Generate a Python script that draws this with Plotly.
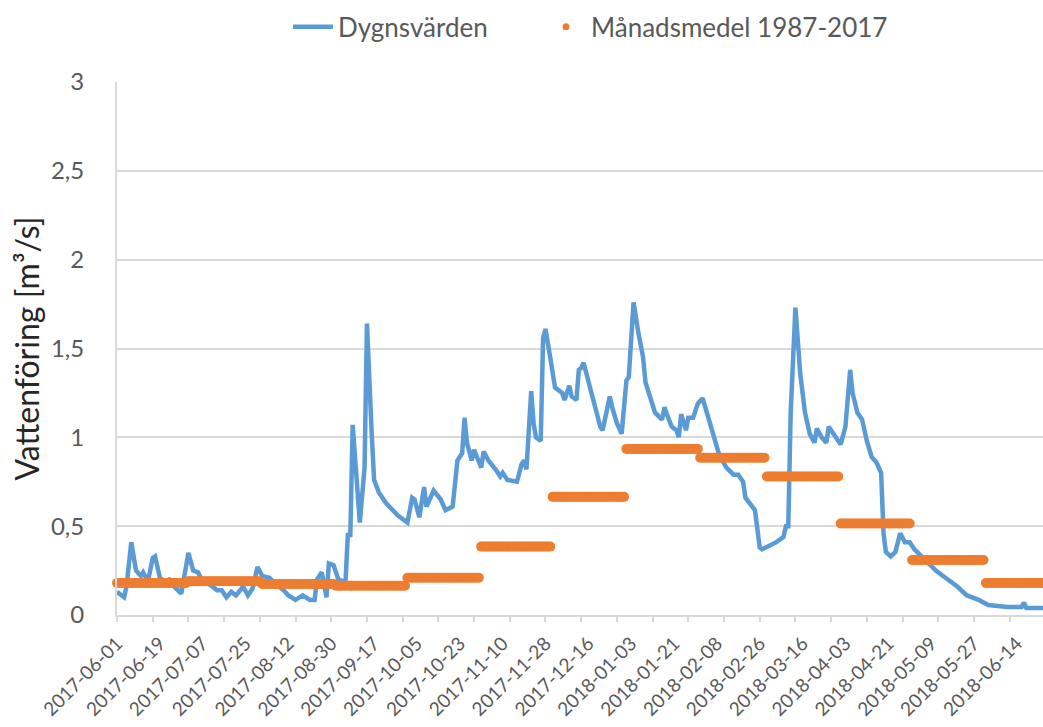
import plotly.graph_objects as go
import pandas as pd

# Daily discharge (Dygnsvärden) – key readings from the chart
daily_dates = [
    "2017-06-01", "2017-06-04", "2017-06-05", "2017-06-07", "2017-06-09", "2017-06-11", "2017-06-12",
    "2017-06-14", "2017-06-16", "2017-06-17", "2017-06-19", "2017-06-21", "2017-06-23", "2017-06-25",
    "2017-06-28", "2017-06-29", "2017-07-01", "2017-07-03", "2017-07-05", "2017-07-07", "2017-07-10",
    "2017-07-13", "2017-07-15", "2017-07-17", "2017-07-19", "2017-07-21", "2017-07-24", "2017-07-26",
    "2017-07-28", "2017-07-30", "2017-08-01", "2017-08-04", "2017-08-07", "2017-08-10", "2017-08-12",
    "2017-08-15", "2017-08-18", "2017-08-21", "2017-08-23", "2017-08-24", "2017-08-26", "2017-08-28",
    "2017-08-29", "2017-08-31", "2017-09-02", "2017-09-04", "2017-09-05", "2017-09-06", "2017-09-07",
    "2017-09-08", "2017-09-10", "2017-09-11", "2017-09-13", "2017-09-14", "2017-09-16", "2017-09-17",
    "2017-09-19", "2017-09-22", "2017-09-27", "2017-10-01", "2017-10-03", "2017-10-04", "2017-10-06",
    "2017-10-08", "2017-10-09", "2017-10-12", "2017-10-15", "2017-10-17", "2017-10-20", "2017-10-22",
    "2017-10-24", "2017-10-25", "2017-10-26", "2017-10-28", "2017-10-29", "2017-11-01", "2017-11-02",
    "2017-11-04", "2017-11-07", "2017-11-09", "2017-11-10", "2017-11-12", "2017-11-16", "2017-11-18",
    "2017-11-19", "2017-11-20", "2017-11-22", "2017-11-23", "2017-11-24", "2017-11-26", "2017-11-27",
    "2017-11-28", "2017-11-30", "2017-12-02", "2017-12-03", "2017-12-05", "2017-12-06", "2017-12-08",
    "2017-12-09", "2017-12-11", "2017-12-12", "2017-12-13", "2017-12-14", "2017-12-15", "2017-12-17",
    "2017-12-19", "2017-12-21", "2017-12-22", "2017-12-25", "2017-12-26", "2017-12-28", "2017-12-30",
    "2018-01-01", "2018-01-02", "2018-01-04", "2018-01-06", "2018-01-08", "2018-01-09", "2018-01-11",
    "2018-01-13", "2018-01-16", "2018-01-17", "2018-01-18", "2018-01-20", "2018-01-22", "2018-01-23",
    "2018-01-24", "2018-01-26", "2018-01-27", "2018-01-29", "2018-01-31", "2018-02-02", "2018-02-04",
    "2018-02-06", "2018-02-08", "2018-02-09", "2018-02-12", "2018-02-15", "2018-02-17", "2018-02-19",
    "2018-02-20", "2018-02-22", "2018-02-24", "2018-02-26", "2018-02-27", "2018-03-02", "2018-03-05",
    "2018-03-08", "2018-03-09", "2018-03-10", "2018-03-11", "2018-03-13", "2018-03-15", "2018-03-17",
    "2018-03-19", "2018-03-21", "2018-03-22", "2018-03-24", "2018-03-26", "2018-03-27", "2018-03-29",
    "2018-04-01", "2018-04-03", "2018-04-05", "2018-04-06", "2018-04-08", "2018-04-10", "2018-04-12",
    "2018-04-14", "2018-04-16", "2018-04-18", "2018-04-19", "2018-04-20", "2018-04-22", "2018-04-24",
    "2018-04-26", "2018-04-28", "2018-04-30", "2018-05-02", "2018-05-07", "2018-05-11", "2018-05-15",
    "2018-05-20", "2018-05-24", "2018-05-29", "2018-06-02", "2018-06-10", "2018-06-16", "2018-06-17",
    "2018-06-18", "2018-06-30",
]
daily_values = [
    0.13, 0.10, 0.16, 0.41, 0.25, 0.22, 0.24,
    0.19, 0.32, 0.33, 0.21, 0.19, 0.20, 0.16,
    0.12, 0.20, 0.35, 0.25, 0.24, 0.19, 0.17,
    0.14, 0.14, 0.10, 0.13, 0.11, 0.16, 0.11,
    0.15, 0.27, 0.22, 0.21, 0.17, 0.14, 0.11,
    0.085, 0.11, 0.085, 0.085, 0.20, 0.24, 0.10,
    0.29, 0.28, 0.20, 0.19, 0.19, 0.46, 0.44,
    1.07, 0.69, 0.52, 0.83, 1.64, 1.02, 0.76,
    0.69, 0.63, 0.56, 0.52, 0.66, 0.65, 0.55,
    0.72, 0.61, 0.70, 0.65, 0.59, 0.61, 0.87,
    0.91, 1.11, 0.97, 0.87, 0.93, 0.83, 0.92,
    0.87, 0.82, 0.78, 0.80, 0.76, 0.75, 0.85,
    0.87, 0.82, 1.26, 1.08, 1.00, 0.98, 1.56,
    1.61, 1.45, 1.28, 1.27, 1.25, 1.21, 1.29,
    1.23, 1.21, 1.38, 1.39, 1.42, 1.37, 1.27,
    1.15, 1.06, 1.04, 1.23, 1.17, 1.08, 1.02,
    1.32, 1.34, 1.76, 1.59, 1.45, 1.31, 1.23,
    1.14, 1.10, 1.17, 1.13, 1.06, 1.04, 1.00,
    1.13, 1.04, 1.11, 1.11, 1.19, 1.22, 1.13,
    1.04, 0.95, 0.90, 0.83, 0.79, 0.79, 0.75,
    0.66, 0.62, 0.59, 0.38, 0.37, 0.39, 0.41,
    0.44, 0.50, 0.50, 1.14, 1.73, 1.36, 1.14,
    1.02, 0.97, 1.05, 1.00, 0.97, 1.06, 1.02,
    0.96, 1.06, 1.38, 1.25, 1.14, 1.10, 0.98,
    0.89, 0.86, 0.80, 0.46, 0.355, 0.33, 0.355,
    0.46, 0.41, 0.41, 0.37, 0.30, 0.25, 0.21,
    0.16, 0.11, 0.085, 0.056, 0.045, 0.045, 0.07,
    0.04, 0.04,
]

# Monthly means 1987-2017 (Månadsmedel)
month_starts = [
    "2017-06-01", "2017-07-01", "2017-08-01", "2017-09-01", "2017-10-01", "2017-11-01", "2017-12-01",
    "2018-01-01", "2018-02-01", "2018-03-01", "2018-04-01", "2018-05-01", "2018-06-01",
]
month_means = [0.18, 0.19, 0.175, 0.165, 0.21, 0.385, 0.665, 0.935, 0.885, 0.78, 0.515, 0.31, 0.18]

y_ticks = [0, 0.5, 1, 1.5, 2, 2.5, 3]

# expand each monthly mean to one point per day of that month
mm_x, mm_y = [], []
for start, val in zip(month_starts, month_means):
    s = pd.Timestamp(start)
    days = pd.date_range(s, s + pd.offsets.MonthEnd(0), freq="D")
    mm_x.extend(days)
    mm_y.extend([val] * len(days))

BLUE = "#5B9BD5"
ORANGE = "#ED7D31"
GRID = "#D9D9D9"
TXT = "#595959"
FONT = "Lato, 'Open Sans', sans-serif"

fig = go.Figure()
fig.add_trace(go.Scatter(
    x=pd.to_datetime(daily_dates), y=daily_values, mode="lines",
    name="Dygnsvärden", line=dict(color=BLUE, width=4.5), legend="legend",
))
fig.add_trace(go.Scatter(
    x=mm_x, y=mm_y, mode="markers", showlegend=False,
    marker=dict(color=ORANGE, size=10), cliponaxis=False,
))
# legend entry with the small dot
fig.add_trace(go.Scatter(
    x=[None], y=[None], mode="markers", name="Månadsmedel 1987-2017",
    marker=dict(color=ORANGE, size=7), xaxis="x2", legend="legend2",
))

legend_common = dict(
    orientation="h", xref="container", yref="container",
    xanchor="left", y=0.963, yanchor="middle",
    font=dict(size=26, color=TXT), itemwidth=40, bgcolor="rgba(0,0,0,0)",
)

x_range = ["2017-06-01", "2018-06-25"]
fig.update_layout(
    width=1043, height=727,
    margin=dict(l=117, r=0, t=82, b=112),
    paper_bgcolor="white", plot_bgcolor="white",
    separators=", ",
    font=dict(family=FONT, color=TXT),
    showlegend=True,
    legend=dict(x=288 / 1043, **legend_common),
    legend2=dict(x=541 / 1043, **legend_common),
    xaxis=dict(
        type="date", range=x_range, tick0="2017-06-01", dtick=18 * 86400000,
        tickformat="%Y-%m-%d", tickangle=-45, ticks="",
        tickfont=dict(size=19, color=TXT),
        showline=True, linecolor=GRID, linewidth=2, showgrid=False, zeroline=False,
        ticklabelstandoff=8, automargin=False,
    ),
    xaxis2=dict(
        type="date", range=x_range, overlaying="x", anchor="y", side="bottom",
        tick0="2017-06-01", dtick=15 * 86400000, ticks="outside", ticklen=6,
        tickcolor=GRID, tickwidth=1.5, showticklabels=False, showgrid=False,
        showline=False, zeroline=False, automargin=False,
    ),
    yaxis=dict(
        range=[0, 3], tickvals=y_ticks, ticks="",
        tickfont=dict(size=24, color=TXT),
        showline=True, linecolor=GRID, linewidth=2,
        showgrid=True, gridcolor=GRID, gridwidth=1.5, zeroline=False,
        ticklabelstandoff=26, automargin=False,
        title=dict(text="Vattenföring [m³/s]", font=dict(size=32, color="#262626"), standoff=2),
    ),
)

fig.write_html("out.html", post_script="document.body.style.margin='0';",
               config={"displayModeBar": False})
